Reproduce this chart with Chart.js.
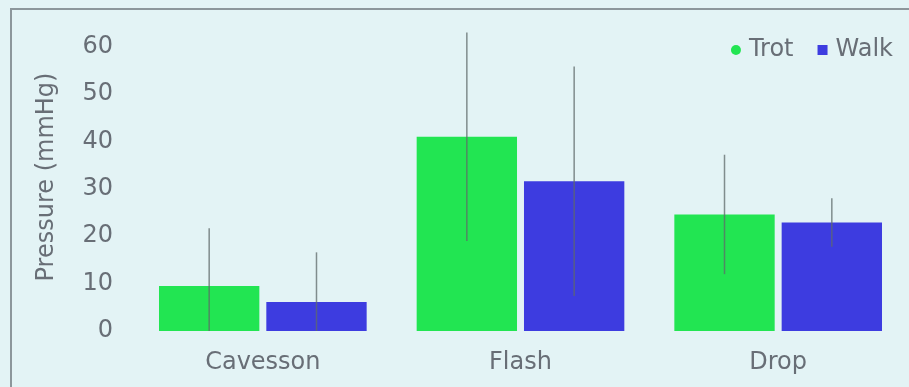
<!DOCTYPE html>
<html>
<head>
<meta charset="utf-8">
<title>Pressure by noseband</title>
<script src="https://cdn.jsdelivr.net/npm/chart.js@4/dist/chart.umd.min.js"></script>
<style>
    html, body { margin: 0; padding: 0; background: #e3f3f5; }
    #wrap { position: relative; width: 909px; height: 387px; overflow: hidden; }
    /* slide frame, only left and top edges are in the photo */
    #frame {
        position: absolute; left: 10px; top: 8px; width: 920px; height: 400px;
        border-left: 2px solid #8c969b; border-top: 2px solid #8c969b;
    }
    canvas { position: absolute; left: 0; top: 0; }
</style>
</head>
<body>
<div id="wrap">
    <div id="frame"></div>
    <canvas id="pressure-chart" width="909" height="387"></canvas>
</div>
<script>
// Data
const categories = ['Cavesson', 'Flash', 'Drop'];
const trotValues = [9.5, 41, 24.6];
const trotErrors = [12.2, 22, 12.6];
const walkValues = [6.1, 31.6, 22.9];
const walkErrors = [10.5, 24.2, 5.1];
const yTicks = [0, 10, 20, 30, 40, 50, 60];

const textColor = '#686e76';
const fontFamily = 'DejaVu Sans';

// Simple error bar plugin (Chart.js has no error bars built in)
const errorBarPlugin = {
    id: 'errorBars',
    afterDatasetsDraw(chart) {
        const ctx = chart.ctx;
        const yScale = chart.scales.y;
        chart.data.datasets.forEach((dataset, i) => {
            const meta = chart.getDatasetMeta(i);
            meta.data.forEach((bar, j) => {
                const value = dataset.data[j];
                const err = dataset.errors[j];
                const top = yScale.getPixelForValue(value + err);
                const bottom = yScale.getPixelForValue(Math.max(0, value - err));
                ctx.save();
                ctx.strokeStyle = 'rgba(95, 105, 105, 0.75)';
                ctx.lineWidth = 1.5;
                ctx.beginPath();
                ctx.moveTo(bar.x, top);
                ctx.lineTo(bar.x, bottom);
                ctx.stroke();
                ctx.restore();
            });
        });
    }
};

// Legend drawn by hand so it can sit inside the plot, top right
const cornerLegendPlugin = {
    id: 'cornerLegend',
    afterDraw(chart) {
        const ctx = chart.ctx;
        const area = chart.chartArea;
        const y = area.top + 27;
        const markerSize = 10;
        const textGap = 8;
        const itemGap = 24;
        ctx.save();
        ctx.font = '24px "' + fontFamily + '"';
        ctx.textBaseline = 'middle';
        ctx.textAlign = 'left';
        // work from the right edge back to the left
        let x = area.right - 14;
        const items = chart.data.datasets.slice().reverse();
        items.forEach((dataset) => {
            const w = ctx.measureText(dataset.label).width;
            x -= w;
            ctx.fillStyle = textColor;
            ctx.fillText(dataset.label, x, y);
            x -= textGap + markerSize;
            ctx.fillStyle = dataset.backgroundColor;
            if (dataset.pointStyle === 'circle') {
                ctx.beginPath();
                ctx.arc(x + markerSize / 2, y, markerSize / 2, 0, Math.PI * 2);
                ctx.fill();
            } else {
                ctx.fillRect(x, y - markerSize / 2, markerSize, markerSize);
            }
            x -= itemGap;
        });
        ctx.restore();
    }
};

const ctx = document.getElementById('pressure-chart').getContext('2d');
new Chart(ctx, {
    type: 'bar',
    data: {
        labels: categories,
        datasets: [
            {
                label: 'Trot',
                data: trotValues,
                errors: trotErrors,
                backgroundColor: '#22e552',
                pointStyle: 'circle',
                barPercentage: 0.935,
                categoryPercentage: 0.833
            },
            {
                label: 'Walk',
                data: walkValues,
                errors: walkErrors,
                backgroundColor: '#3d3ce0',
                pointStyle: 'rect',
                barPercentage: 0.935,
                categoryPercentage: 0.833
            }
        ]
    },
    options: {
        responsive: false,
        animation: false,
        layout: {
            padding: { left: 28, right: 2, top: 23, bottom: 12 }
        },
        scales: {
            x: {
                afterFit: (scale) => {
                    scale.height = 44;
                },
                grid: { display: false, drawTicks: false },
                border: { display: false },
                ticks: {
                    color: textColor,
                    padding: 17,
                    font: { family: fontFamily, size: 24 }
                }
            },
            y: {
                min: 0,
                max: 65, // headroom for the tallest error bar
                afterBuildTicks: (scale) => {
                    scale.ticks = yTicks.map(v => ({ value: v }));
                },
                afterFit: (scale) => {
                    scale.width = 106; // keep the plot starting at x ~134
                    // tick padding would otherwise push the plot top down
                    scale.paddingTop = 0;
                    scale.paddingBottom = 0;
                },
                grid: { display: false, drawTicks: false },
                border: { display: false },
                ticks: {
                    color: textColor,
                    padding: 21,
                    font: { family: fontFamily, size: 24 }
                },
                title: {
                    display: true,
                    text: 'Pressure (mmHg)',
                    color: textColor,
                    padding: { top: 4, bottom: 0 },
                    font: { family: fontFamily, size: 24 }
                }
            }
        },
        plugins: {
            legend: { display: false },
            tooltip: { enabled: false }
        }
    },
    plugins: [errorBarPlugin, cornerLegendPlugin]
});
</script>
</body>
</html>
